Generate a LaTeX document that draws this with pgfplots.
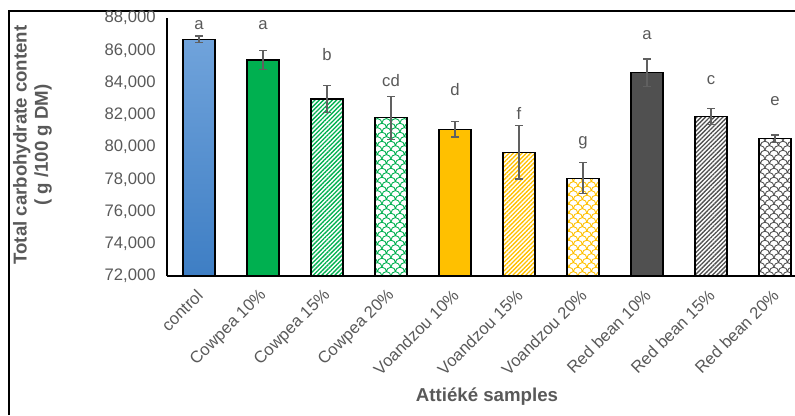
\documentclass[border=0pt]{standalone}
\usepackage{pgfplots}
\pgfplotsset{compat=1.18}
\usepackage{fontspec}
\setmainfont{Liberation Sans}
\usetikzlibrary{patterns,patterns.meta}
\definecolor{txtgray}{HTML}{595959}
\definecolor{errgray}{HTML}{606060}
\definecolor{ctop}{HTML}{70A3DB}
\definecolor{cbot}{HTML}{3E7EC4}
\definecolor{cgreen}{HTML}{00B050}
\definecolor{cyellow}{HTML}{FFC000}
\definecolor{cdark}{HTML}{505050}
\pgfdeclarepatternformonly{scales}{\pgfqpoint{0pt}{0pt}}{\pgfqpoint{7pt}{7pt}}{\pgfqpoint{7pt}{7pt}}{%
  \pgfsetlinewidth{0.7pt}%
  \pgfpathmoveto{\pgfqpoint{0pt}{0pt}}\pgfpatharc{180}{0}{3.5pt}%
  \pgfpathmoveto{\pgfqpoint{-3.5pt}{3.5pt}}\pgfpatharc{180}{0}{3.5pt}%
  \pgfpathmoveto{\pgfqpoint{3.5pt}{3.5pt}}\pgfpatharc{180}{0}{3.5pt}%
  \pgfusepath{stroke}%
}
\begin{document}
\begin{tikzpicture}
\path[use as bounding box] (0,0) rectangle (596.25pt,311.25pt);
\draw[black, line width=1.1pt] (6.75pt,0) -- (6.75pt,303pt) -- (597pt,303pt);
\begin{axis}[
  at={(125.25pt,104.25pt)}, anchor=south west,
  scale only axis, width=471pt, height=193.5pt,
  ybar, bar width=24pt, bar shift=0pt,
  xmin=-0.5, xmax=9.3125,
  ymin=72000, ymax=88000,
  ytick={72000,74000,...,88000},
  scaled y ticks=false,
  xtick={0,...,9},
  xticklabels={control,Cowpea 10\%,Cowpea 15\%,Cowpea 20\%,Voandzou 10\%,Voandzou 15\%,Voandzou 20\%,Red bean 10\%,Red bean 15\%,Red bean 20\%},
  axis x line*=bottom, axis y line*=left,
  axis line style={black, line width=0.9pt},
  major tick length=0pt,
  clip=false,
  /pgf/number format/assume math mode=true,
  /pgf/number format/fixed,
  /pgf/number format/1000 sep={,},
  tick label style={font=\fontsize{12.5}{15}\selectfont, text=txtgray},
  x tick label style={font=\fontsize{12.5}{15}\selectfont, xshift=3pt, yshift=-10pt, rotate=45, anchor=east},
  y tick label style={font=\fontsize{12.5}{15}\selectfont, xshift=-5pt},
  error bars/y dir=both, error bars/y explicit,
  error bars/error bar style={errgray, line width=0.9pt},
  error bars/error mark options={rotate=90, mark size=3pt, errgray, line width=0.9pt},
  every axis plot/.append style={draw=black, line width=1pt},
]
\addplot[top color=ctop, bottom color=cbot] coordinates {(0,86680) +- (0,200)};
\addplot[fill=cgreen] coordinates {(1,85400) +- (0,600)};
\addplot[pattern={Lines[angle=45,distance=2.3pt,line width=1pt]}, pattern color=cgreen] coordinates {(2,82980) +- (0,820)};
\addplot[pattern=scales, pattern color=cgreen] coordinates {(3,81820) +- (0,1330)};
\addplot[fill=cyellow] coordinates {(4,81100) +- (0,480)};
\addplot[pattern={Lines[angle=45,distance=2.3pt,line width=1pt]}, pattern color=cyellow] coordinates {(5,79670) +- (0,1650)};
\addplot[pattern=scales, pattern color=cyellow] coordinates {(6,78060) +- (0,960)};
\addplot[fill=cdark] coordinates {(7,84610) +- (0,850)};
\addplot[pattern={Lines[angle=45,distance=2.3pt,line width=1pt]}, pattern color=cdark] coordinates {(8,81880) +- (0,500)};
\addplot[pattern=scales, pattern color=cdark] coordinates {(9,80515) +- (0,230)};
\begin{scope}[every node/.style={font=\fontsize{12.5}{15}\selectfont, text=txtgray}]
\node at (axis cs:0,87567) {a};
\node at (axis cs:1,87567) {a};
\node at (axis cs:2,85706) {b};
\node at (axis cs:3,84094) {cd};
\node at (axis cs:4,83536) {d};
\node at (axis cs:5,82109) {f};
\node at (axis cs:6,80249) {g};
\node at (axis cs:7,86947) {a};
\node at (axis cs:8,84156) {c};
\node at (axis cs:9,82854) {e};
\end{scope}
\end{axis}
\node[font=\bfseries\fontsize{14}{16}\selectfont, text=txtgray] at (365.25pt,13.5pt) {Attiéké samples};
\node[font=\bfseries\fontsize{14}{16}\selectfont, text=txtgray, rotate=90, align=center] at (24.4pt,202.5pt) {Total carbohydrate content\\( g /100 g DM)};
\end{tikzpicture}
\end{document}
